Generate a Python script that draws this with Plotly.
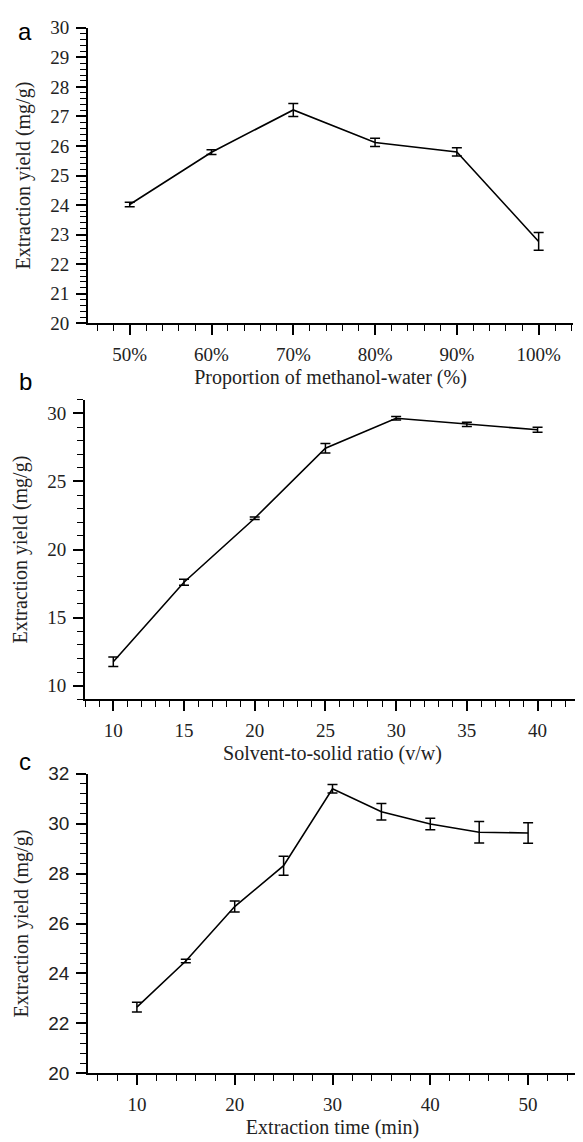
import plotly.graph_objects as go

# ---- data ----
# Panel a: proportion of methanol-water
prop_x = [50, 60, 70, 80, 90, 100]
prop_labels = ["50%", "60%", "70%", "80%", "90%", "100%"]
prop_y = [24.02, 25.79, 27.22, 26.12, 25.80, 22.77]
prop_err = [0.08, 0.08, 0.22, 0.14, 0.14, 0.30]

# Panel b: solvent-to-solid ratio
ratio_x = [10, 15, 20, 25, 30, 35, 40]
ratio_y = [11.75, 17.6, 22.3, 27.45, 29.65, 29.2, 28.8]
ratio_err = [0.35, 0.22, 0.10, 0.35, 0.13, 0.15, 0.18]

# Panel c: extraction time
time_x = [10, 15, 20, 25, 30, 35, 40, 45, 50]
time_y = [22.65, 24.5, 26.68, 28.32, 31.4, 30.48, 29.99, 29.66, 29.63]
time_err = [0.20, 0.07, 0.22, 0.38, 0.17, 0.33, 0.23, 0.43, 0.41]

W, H = 583, 1142
OFF = 8  # page body margin offset
SERIF = "Liberation Serif, Times New Roman, serif"
SANS = "Liberation Sans, Arial, sans-serif"


def xd(a, b):
    return [(a - OFF) / W, (b - OFF) / W]


def yd(top, bottom):
    return [1 - (bottom - OFF) / H, 1 - (top - OFF) / H]


fig = go.Figure()

line = dict(color="black", width=1.6)


def err(arr):
    return dict(type="data", array=arr, color="black", thickness=1.5, width=5, visible=True)


fig.add_trace(go.Scatter(x=prop_x, y=prop_y, error_y=err(prop_err), mode="lines",
                         line=line, xaxis="x", yaxis="y", showlegend=False))
fig.add_trace(go.Scatter(x=ratio_x, y=ratio_y, error_y=err(ratio_err), mode="lines",
                         line=line, xaxis="x2", yaxis="y2", showlegend=False))
fig.add_trace(go.Scatter(x=time_x, y=time_y, error_y=err(time_err), mode="lines",
                         line=line, xaxis="x3", yaxis="y3", showlegend=False))


def axis(domain, rng, dtick, tick0, minor_dtick, anchor, title, tickfont_family=SERIF,
         standoff=6, tickvals=None, ticktext=None, labelstandoff=3):
    ax = dict(
        domain=domain, range=rng, anchor=anchor,
        showline=True, linecolor="black", linewidth=1.8,
        ticks="outside", ticklen=10, tickwidth=1.6, tickcolor="black",
        showgrid=False, zeroline=False,
        tickfont=dict(family=tickfont_family, size=19, color="#222"),
        ticklabelstandoff=labelstandoff,
        minor=dict(ticks="outside", ticklen=6, tickwidth=1.4, tickcolor="black",
                   dtick=minor_dtick, tick0=tick0, showgrid=False),
        title=dict(text=title, font=dict(family=SERIF, size=20, color="#222"), standoff=standoff),
    )
    if tickvals is not None:
        ax.update(tickmode="array", tickvals=tickvals, ticktext=ticktext)
    else:
        ax.update(tickmode="linear", dtick=dtick, tick0=tick0)
    return ax


fig.update_layout(
    width=W, height=H,
    margin=dict(l=0, r=0, t=0, b=0),
    paper_bgcolor="white", plot_bgcolor="white",
    xaxis=axis(xd(88, 573), [44.9, 104.2], 10, 50, 2, "y",
               "Proportion of methanol-water (%)", tickvals=prop_x, ticktext=prop_labels),
    yaxis=axis(yd(18, 319), [20, 30], 1, 20, 0.2, "x", "Extraction yield (mg/g)", standoff=14),
    xaxis2=axis(xd(85, 580), [8, 43], 5, 10, 1, "y2", "Solvent-to-solid ratio (v/w)"),
    yaxis2=axis(yd(397, 702), [9, 31], 5, 10, 1, "x2", "Extraction yield (mg/g)", standoff=14),
    xaxis3=axis(xd(88, 577), [5, 55], 10, 10, 2, "y3", "Extraction time (min)"),
    yaxis3=axis(yd(778, 1083), [20, 32], 2, 20, 0.4, "x3", "Extraction yield (mg/g)",
                tickfont_family=SANS, standoff=14),
)

for letter, ypix in [("a", 22), ("b", 378), ("c", 765)]:
    fig.add_annotation(text=letter, x=(25 - OFF) / W, y=1 - (ypix - OFF) / H,
                       xref="paper", yref="paper",
                       showarrow=False, xanchor="center", yanchor="middle",
                       font=dict(family=SANS, size=24, color="black"))

fig.write_html("out.html")
